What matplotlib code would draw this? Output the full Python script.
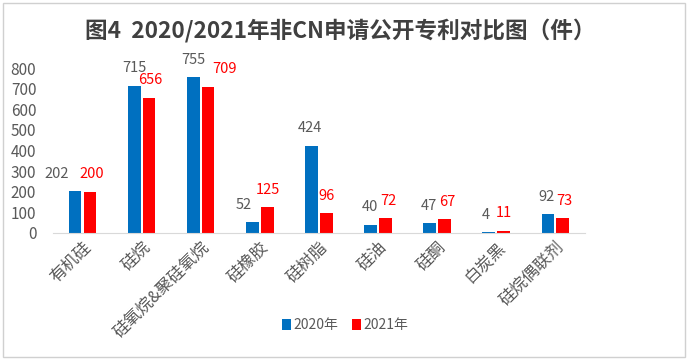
import matplotlib
matplotlib.use("Agg")
import matplotlib.pyplot as plt
from matplotlib.patches import Rectangle
import numpy as np

plt.rcParams['font.family'] = ['Noto Sans CJK SC', 'DejaVu Sans']

categories = ['有机硅', '硅烷', '硅氧烷&聚硅氧烷', '硅橡胶', '硅树脂', '硅油', '硅酮', '白炭黑', '硅烷偶联剂']
values_2020 = [202, 715, 755, 52, 424, 40, 47, 4, 92]
values_2021 = [200, 656, 709, 125, 96, 72, 67, 11, 73]
series_names = ['2020年', '2021年']
title = '图4  2020/2021年非CN申请公开专利对比图（件）'

BLUE = '#0070C0'
RED = '#FF0000'
GRAY = '#595959'

# label nudges in pixels (manual, like the original)
dx_2020 = [-18, 0, 0, -9, -2, -1, -1, -3, -1]
dx_2021 = [2, 1, 16, 1, 0, 3, 3, 0, 2]

fig = plt.figure(figsize=(6.88, 3.6), dpi=100)
fig.patches.append(Rectangle((0.004, 0.008), 0.992, 0.984, transform=fig.transFigure,
                             fill=False, edgecolor='#D0D0D0', linewidth=1))
ax = fig.add_axes([0.077, 0.353, 0.773, 0.458])

x = np.arange(len(categories))
w = 0.215
off = 0.125
ax.bar(x - off, values_2020, width=w, color=BLUE, label=series_names[0])
ax.bar(x + off, values_2021, width=w, color=RED, label=series_names[1])

for i in range(len(categories)):
    ax.annotate(str(values_2020[i]), (x[i] - off, values_2020[i]),
                xytext=(dx_2020[i] * 0.72, 12.5), textcoords='offset points',
                ha='center', va='center', fontsize=10.5, color=GRAY)
    ax.annotate(str(values_2021[i]), (x[i] + off, values_2021[i]),
                xytext=(dx_2021[i] * 0.72, 12.5), textcoords='offset points',
                ha='center', va='center', fontsize=10.5, color=RED)

ax.set_xlim(-0.5, len(categories) - 0.5)
ax.set_ylim(0, 800)
ax.set_yticks(range(0, 801, 100))
ax.set_xticks(x)
ax.set_xticklabels(categories, rotation=45, ha='right', rotation_mode='anchor',
                   fontsize=12, color=GRAY)
ax.tick_params(axis='y', length=0, labelsize=11, labelcolor=GRAY, pad=12)
ax.tick_params(axis='x', length=0, pad=4)
for s in ['top', 'right', 'left']:
    ax.spines[s].set_visible(False)
ax.spines['bottom'].set_color('#D9D9D9')
ax.set_facecolor('none')

fig.text(0.494, 0.915, title, ha='center', va='center', fontsize=16.3,
         fontweight='bold', color='#404040')

ax.legend(loc='center', frameon=False, ncol=2, fontsize=10, handlelength=0.6,
          handleheight=0.8, handletextpad=0.2, columnspacing=1.0, labelcolor=GRAY)
ax.get_legend().set_bbox_to_anchor((0.502, 0.097), transform=fig.transFigure)

fig.savefig('out.png', dpi=100)
